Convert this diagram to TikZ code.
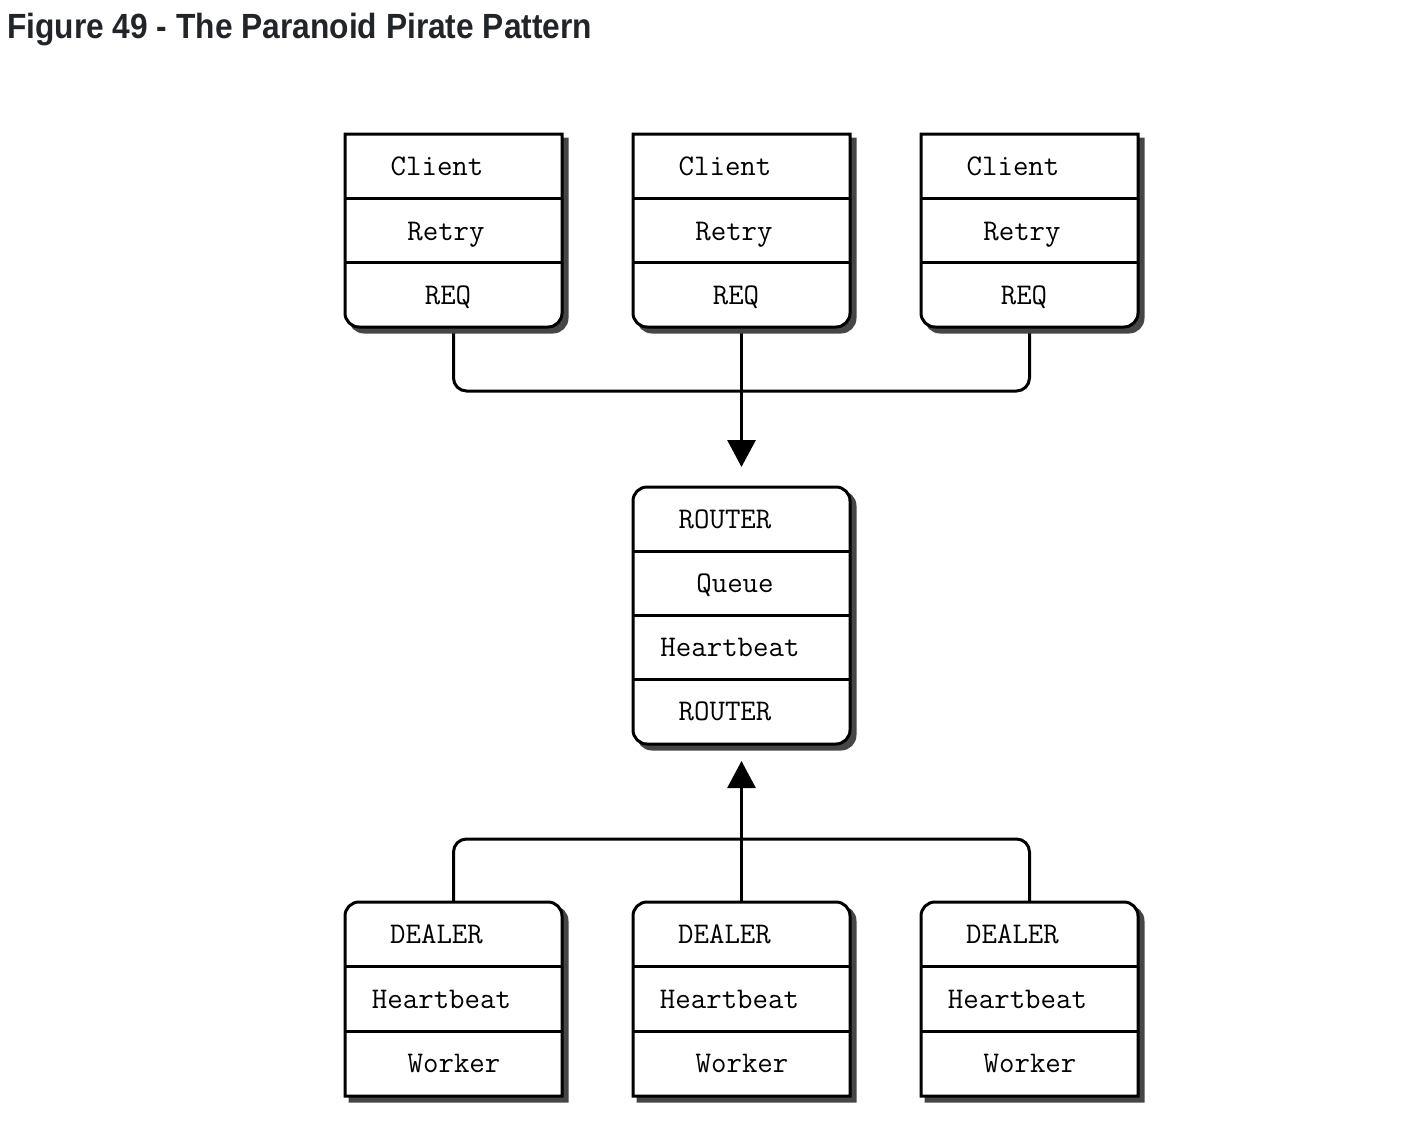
\documentclass[tikz,border=0pt]{standalone}
\usepackage{fontspec}
\setmainfont{Liberation Sans}
\usetikzlibrary{calc,arrows.meta}
\definecolor{shadowc}{RGB}{70,70,70}
\definecolor{titlec}{RGB}{33,37,41}
\newcommand{\boxrad}{14pt}
% client: top sharp, bottom rounded
\newcommand{\shpC}[3]{%
 \path[#2] ([shift={(#3)}]#1.north west) -- ([shift={(#3)}]#1.north east)
   -- ([shift={(#3)},yshift=\boxrad]#1.south east) arc[start angle=0,end angle=-90,radius=\boxrad]
   -- ([shift={(#3)},xshift=\boxrad]#1.south west) arc[start angle=270,end angle=180,radius=\boxrad]
   -- cycle;}
% dealer: top rounded, bottom sharp
\newcommand{\shpD}[3]{%
 \path[#2] ([shift={(#3)}]#1.south west)
   -- ([shift={(#3)},yshift=-\boxrad]#1.north west) arc[start angle=180,end angle=90,radius=\boxrad]
   -- ([shift={(#3)},xshift=-\boxrad]#1.north east) arc[start angle=90,end angle=0,radius=\boxrad]
   -- ([shift={(#3)}]#1.south east) -- cycle;}
% router: all rounded
\newcommand{\shpR}[3]{%
 \path[#2, rounded corners=\boxrad] ([shift={(#3)}]#1.north west) rectangle ([shift={(#3)}]#1.south east);}
\tikzset{
 box/.style={draw=none, inner sep=0pt, outer sep=0pt, minimum width=217pt},
 shadowfill/.style={fill=shadowc, draw=shadowc, line width=3pt},
 boxline/.style={fill=white, draw=black, line width=3pt},
 divider/.style={draw=black, line width=3pt},
 lbl/.style={font=\fontsize{30}{36}\selectfont\ttfamily, anchor=base, inner sep=0pt},
 conn/.style={draw=black, line width=3pt, rounded corners=13pt},
 arr/.style={draw=black, line width=3pt, -{Triangle[width=28pt,length=27pt]}},
}
\begin{document}
\begin{tikzpicture}[x=1pt,y=1pt]
\useasboundingbox (0,0) rectangle (1408,-1122);
\node[anchor=base west, inner sep=0pt, text=titlec, font=\fontsize{35}{40}\selectfont\bfseries] (title) at (7,-38.5) {\scalebox{0.906}[1]{Figure 49 - The Paranoid Pirate Pattern}};
% box frames
\foreach \i/\xx in {1/453.5, 2/741.5, 3/1029.5} {
  \node[box, minimum height=193pt] (c\i) at (\xx,-230.5) {};
  \node[box, minimum height=194pt] (d\i) at (\xx,-999) {};
}
\node[box, minimum height=257pt] (r) at (741.5,-615.5) {};
% connectors
\coordinate (tj) at (741.5,-391);
\coordinate (bj) at (741.5,-839);
\draw[conn] (c1.south) |- (tj) -| (c3.south);
\draw[conn] (d1.north) |- (bj) -| (d3.north);
\draw[arr, shorten >=20pt] (c2.south) -- (r.north);
\draw[arr, shorten >=17pt] (d2.north) -- (r.south);
% shadows and outlines
\foreach \i in {1,2,3} {
  \shpC{c\i}{shadowfill}{5pt,-5pt}
  \shpC{c\i}{boxline}{0pt,0pt}
  \shpD{d\i}{shadowfill}{5pt,-5pt}
  \shpD{d\i}{boxline}{0pt,0pt}
  \foreach \f in {1/3,2/3} {
    \draw[divider] ($(c\i.north west)!\f!(c\i.south west)$) -- ($(c\i.north east)!\f!(c\i.south east)$);
    \draw[divider] ($(d\i.north west)!\f!(d\i.south west)$) -- ($(d\i.north east)!\f!(d\i.south east)$);
  }
  \node[lbl] (c\i-t1) at ($(c\i.north west)+(92,-41)$) {Client};
  \node[lbl] (c\i-t2) at ($(c\i.north west)+(101,-106)$) {Retry};
  \node[lbl] (c\i-t3) at ($(c\i.north west)+(103,-170)$) {REQ};
  \node[lbl] (d\i-t1) at ($(d\i.north west)+(91.5,-41)$) {DEALER};
  \node[lbl] (d\i-t2) at ($(d\i.north west)+(96.5,-106)$) {Heartbeat};
  \node[lbl] (d\i-t3) at ($(d\i.north west)+(109,-170)$) {Worker};
}
\shpR{r}{shadowfill}{5pt,-5pt}
\shpR{r}{boxline}{0pt,0pt}
\foreach \f in {1/4,2/4,3/4} {
  \draw[divider] ($(r.north west)!\f!(r.south west)$) -- ($(r.north east)!\f!(r.south east)$);
}
\node[lbl] (r-t1) at ($(r.north west)+(92,-41)$) {ROUTER};
\node[lbl] (r-t2) at ($(r.north west)+(102,-105)$) {Queue};
\node[lbl] (r-t3) at ($(r.north west)+(97,-169)$) {Heartbeat};
\node[lbl] (r-t4) at ($(r.north west)+(92,-233)$) {ROUTER};
\end{tikzpicture}
\end{document}
